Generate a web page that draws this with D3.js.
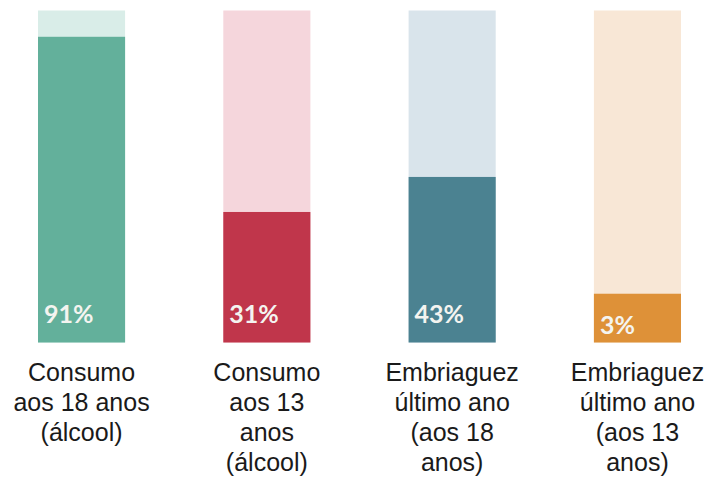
<!DOCTYPE html>
<html>
<head>
<meta charset="utf-8">
<script src="https://cdn.jsdelivr.net/npm/d3@7"></script>
<style>
  html, body { margin: 0; padding: 0; background: #ffffff; }
  svg { display: block; }
</style>
</head>
<body>
<svg id="chart" width="714" height="482"></svg>
<script>
// ---- data ----
const categories = ["c18", "c13", "e18", "e13"];
const values = [91, 31, 43, 3];
const valueLabels = ["91%", "31%", "43%", "3%"];
const categoryLines = [
  ["Consumo", "aos 18 anos", "(álcool)"],
  ["Consumo", "aos 13", "anos", "(álcool)"],
  ["Embriaguez", "último ano", "(aos 18", "anos)"],
  ["Embriaguez", "último ano", "(aos 13", "anos)"]
];
const fillColors = ["#63b09b", "#c0364b", "#4b8291", "#de9138"];
const trackColors = ["#d9ede8", "#f5d6dc", "#d9e4eb", "#f8e7d6"];

// ---- layout ----
const svg = d3.select("#chart");
const barBottom = 342.5;
const minLabelSpace = 40;   // space reserved at bar base for the value label
const trackHeight = 332;

const x = d3.scaleBand()
  .domain(categories)
  .range([38, 681])
  .paddingInner(0.53)
  .paddingOuter(0);

const h = d3.scaleLinear()
  .domain([0, 100])
  .range([minLabelSpace, trackHeight]);

const data = categories.map((c, i) => ({
  c, v: values[i], label: valueLabels[i], lines: categoryLines[i],
  fill: fillColors[i], track: trackColors[i]
}));

const g = svg.append("g");

// track (background, full scale)
g.selectAll("rect.track").data(data).join("rect")
  .attr("class", "track")
  .attr("x", d => x(d.c))
  .attr("width", x.bandwidth())
  .attr("y", barBottom - h(100))
  .attr("height", h(100))
  .attr("fill", d => d.track);

// value bars
g.selectAll("rect.bar").data(data).join("rect")
  .attr("class", "bar")
  .attr("x", d => x(d.c))
  .attr("width", x.bandwidth())
  .attr("y", d => barBottom - h(d.v))
  .attr("height", d => h(d.v))
  .attr("fill", d => d.fill);

// value labels
g.selectAll("text.val").data(data).join("text")
  .attr("class", "val")
  .attr("x", d => x(d.c) + 6)
  .attr("y", d => h(d.v) < 70 ? barBottom - 9 : barBottom - 20)
  .attr("fill", "#f4f4f0")
  .attr("font-family", "Lato, 'Open Sans', sans-serif")
  .attr("font-weight", 700)
  .attr("font-size", 25)
  .text(d => d.label);

// category labels
const cat = g.selectAll("text.cat").data(data).join("text")
  .attr("class", "cat")
  .attr("text-anchor", "middle")
  .attr("fill", "#1a1a1a")
  .attr("font-family", "'Liberation Sans', Arial, sans-serif")
  .attr("font-size", 25)
  .attr("transform", d => `translate(${x(d.c) + x.bandwidth() / 2},381)`);

cat.selectAll("tspan").data(d => d.lines).join("tspan")
  .attr("x", 0)
  .attr("y", (d, i) => i * 30)
  .text(d => d);
</script>
</body>
</html>
